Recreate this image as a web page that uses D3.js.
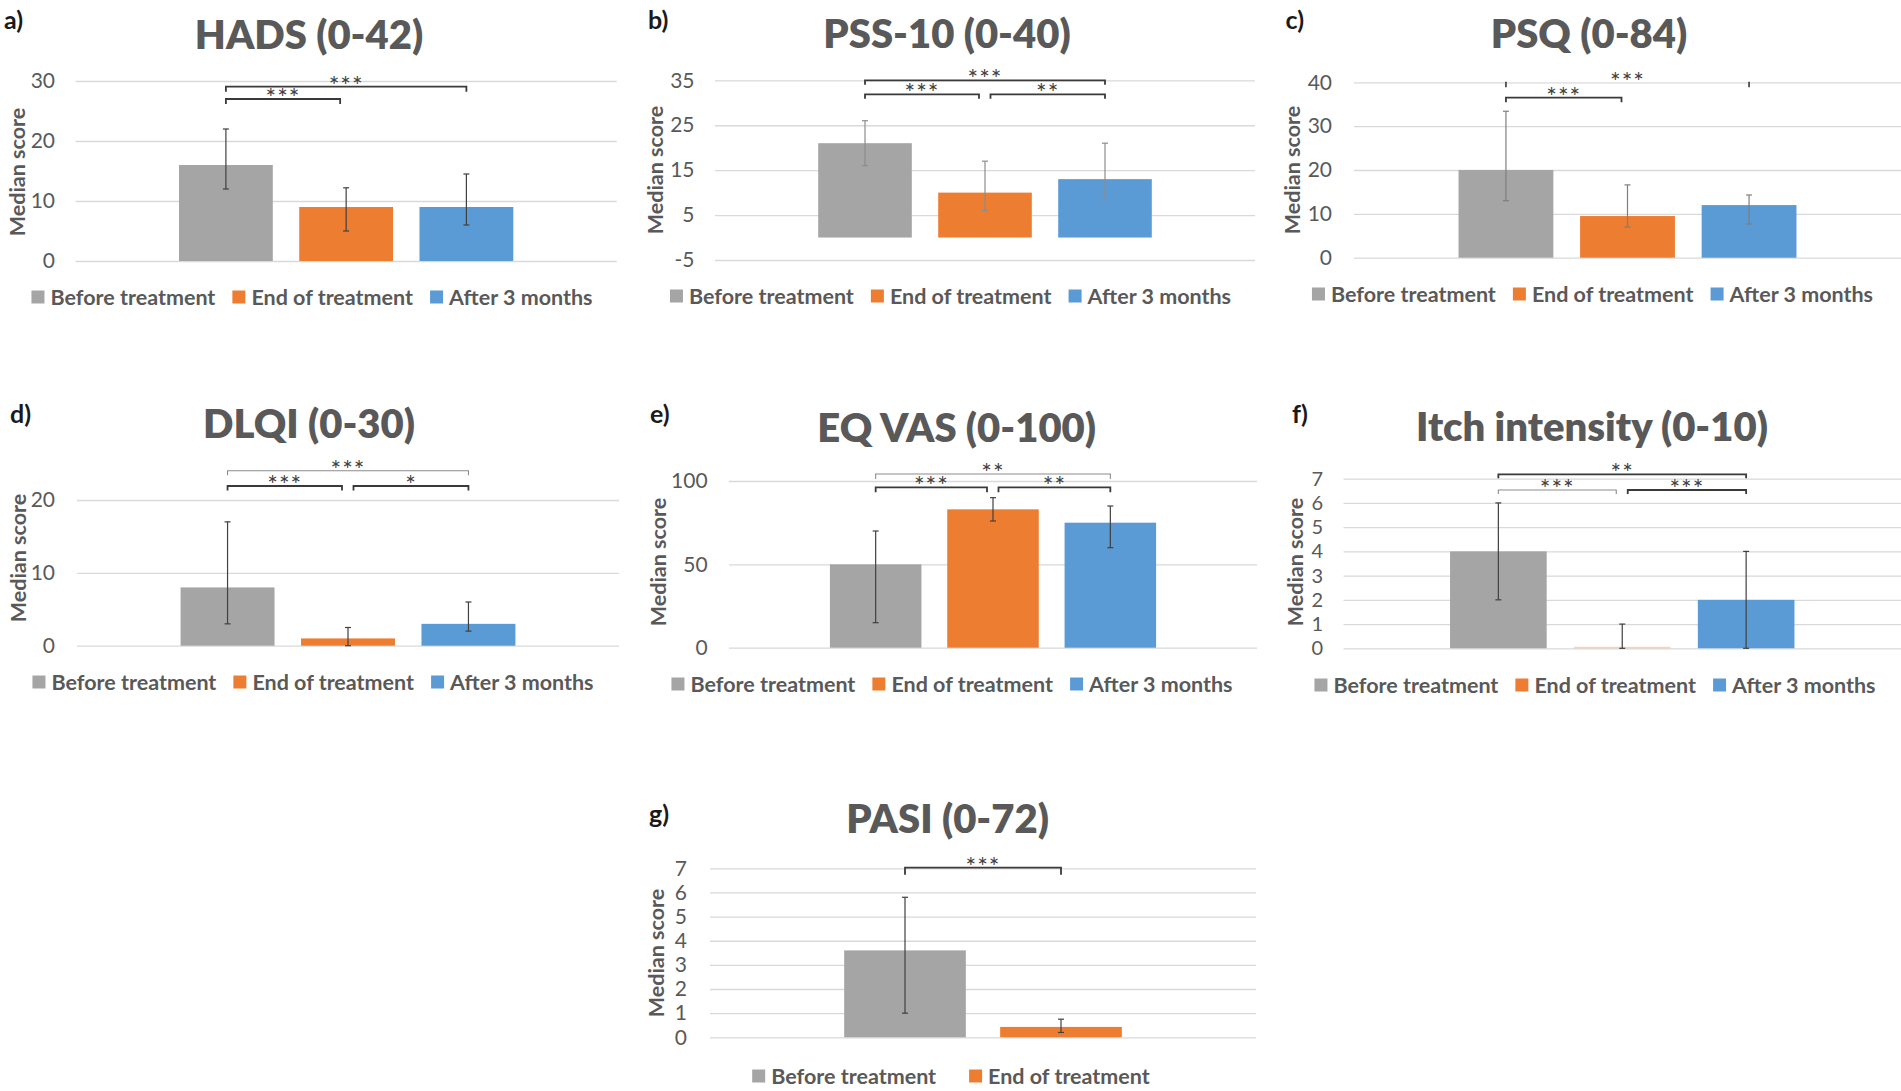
<!DOCTYPE html>
<html>
<head>
<meta charset="utf-8">
<script src="https://cdn.jsdelivr.net/npm/d3@7"></script>
<style>
  body { margin: 0; background: #fff; }
  text { font-family: Lato, "Open Sans", sans-serif; }
</style>
</head>
<body>
<svg id="chart"></svg>
<script>
const width = 1901,
      height = 1091

const series = ["Before treatment", "End of treatment", "After 3 months"]
const colors = ["#a5a5a5", "#ed7d31", "#5b9bd5"]

// a) HADS
const hadsMedian = [16, 9, 9]
const hadsLower  = [12, 5, 6]
const hadsUpper  = [22, 12.2, 14.5]
const hadsTicks  = [0, 10, 20, 30]
const hadsSig    = [[0, 1, "***"], [0, 2, "***"]]

// b) PSS-10
const pssMedian = [21, 10, 13]
const pssLower  = [16, 6, 9]
const pssUpper  = [26, 17, 21]
const pssTicks  = [-5, 5, 15, 25, 35]
const pssSig    = [[0, 1, "***"], [1, 2, "**"], [0, 2, "***"]]

// c) PSQ
const psqMedian = [20, 9.5, 12]
const psqLower  = [13, 7, 7.7]
const psqUpper  = [33.4, 16.6, 14.3]
const psqTicks  = [0, 10, 20, 30, 40]
const psqSig    = [[0, 1, "***"], [0, 2, "***"]]

// d) DLQI
const dlqiMedian = [8, 1, 3]
const dlqiLower  = [3, 0, 2]
const dlqiUpper  = [17, 2.5, 6]
const dlqiTicks  = [0, 10, 20]
const dlqiSig    = [[0, 1, "***"], [1, 2, "*"], [0, 2, "***"]]

// e) EQ VAS
const vasMedian = [50, 83, 75]
const vasLower  = [15, 76, 60]
const vasUpper  = [70, 90, 85]
const vasTicks  = [0, 50, 100]
const vasSig    = [[0, 1, "***"], [1, 2, "**"], [0, 2, "**"]]

// f) Itch intensity
const itchMedian = [4, 0, 2]
const itchLower  = [2, 0, 0]
const itchUpper  = [6, 1, 4]
const itchTicks  = [0, 1, 2, 3, 4, 5, 6, 7]
const itchSig    = [[0, 1, "***"], [1, 2, "***"], [0, 2, "**"]]

// g) PASI (no 3-month value)
const pasiMedian = [3.6, 0.43]
const pasiLower  = [1.0, 0.2]
const pasiUpper  = [5.8, 0.75]
const pasiTicks  = [0, 1, 2, 3, 4, 5, 6, 7]
const pasiSig    = [[0, 1, "***"]]

// layout of each panel (pixels)
const panels = [
  {tag: "a)", title: "HADS (0-42)", median: hadsMedian, lower: hadsLower, upper: hadsUpper, ticks: hadsTicks, sig: hadsSig,
   xr: [75.6, 616.7], yr: [261, 81], tagPos: [4, 29], titlePos: [309, 49], yLab: [17, 172], tickRight: 55, tickSize: 21,
   legend: [312, 297], legGap: 17, brY: [99, 86.7], brTick: 5, brStyle: ["dark", "dark"], err: "#404040"},
  {tag: "b)", title: "PSS-10 (0-40)", median: pssMedian, lower: pssLower, upper: pssUpper, ticks: pssTicks, sig: pssSig,
   xr: [715, 1255], yr: [260, 80.3], tagPos: [648, 29], titlePos: [947, 48], yLab: [655, 170], tickRight: 694.5, tickSize: 21,
   legend: [950.5, 296], legGap: 17, brY: [94.3, 94.3, 80.3], brTick: 4.5, brStyle: ["dark", "dark", "dark"], err: "#8c8c8c"},
  {tag: "c)", title: "PSQ (0-84)", median: psqMedian, lower: psqLower, upper: psqUpper, ticks: psqTicks, sig: psqSig,
   xr: [1354, 1901], yr: [257.7, 82.3], tagPos: [1285.5, 29], titlePos: [1589, 48], yLab: [1292.5, 170], tickRight: 1332, tickSize: 21,
   legend: [1592.5, 294], legGap: 17, brY: [97.7, 82.7], brTick: 4.5, brStyle: ["dark", "faint"], err: "#7f7f7f"},
  {tag: "d)", title: "DLQI (0-30)", median: dlqiMedian, lower: dlqiLower, upper: dlqiUpper, ticks: dlqiTicks, sig: dlqiSig,
   xr: [77, 619], yr: [645.7, 500], tagPos: [10, 423], titlePos: [309, 438], yLab: [18.4, 558], tickRight: 55, tickSize: 21,
   legend: [313, 682], legGap: 17, brY: [486, 486, 470.7], brTick: 4.5, brStyle: ["dark", "dark", "light"], err: "#404040"},
  {tag: "e)", title: "EQ VAS (0-100)", median: vasMedian, lower: vasLower, upper: vasUpper, ticks: vasTicks, sig: vasSig,
   xr: [729, 1257], yr: [647.7, 481], tagPos: [650, 423], titlePos: [956.7, 442], yLab: [658.6, 562], tickRight: 707.6, tickSize: 21,
   legend: [952, 684], legGap: 17, brY: [487.3, 487.3, 474], brTick: 5, brStyle: ["dark", "dark", "light"], err: "#404040"},
  {tag: "f)", title: "Itch intensity (0-10)", median: itchMedian, lower: itchLower, upper: itchUpper, ticks: itchTicks, sig: itchSig,
   xr: [1343.5, 1901], yr: [648.3, 478.7], tagPos: [1292, 423], titlePos: [1592, 441], yLab: [1295, 562], tickRight: 1323, tickSize: 20,
   legend: [1595, 685], legGap: 17, brY: [490, 490, 474.3], brTick: 4, brStyle: ["light", "dark", "dark"], err: "#404040"},
  {tag: "g)", title: "PASI (0-72)", median: pasiMedian, lower: pasiLower, upper: pasiUpper, ticks: pasiTicks, sig: pasiSig,
   xr: [710, 1256], yr: [1037.3, 868.3], tagPos: [649, 823], titlePos: [947.6, 833], yLab: [656.3, 953], tickRight: 687, tickSize: 21,
   legend: [951, 1076], legGap: 33, brY: [867.7], brTick: 7, brStyle: ["dark"], err: "#404040"}
]

const textColor = "#595959"

const svg = d3.select("#chart")
  .attr("width", width)
  .attr("height", height)

svg.append("rect").attr("width", width).attr("height", height).attr("fill", "#fff")

panels.forEach(drawPanel)

function drawPanel (p) {
  const names = series.slice(0, p.median.length)
  const rows = names.map((name, i) => ({name: name, i: i, median: p.median[i], lower: p.lower[i], upper: p.upper[i]}))

  const x = d3.scaleBand()
    .domain(names)
    .range(p.xr)
    .paddingInner(0.22)
    .paddingOuter(0.86)

  const y = d3.scaleLinear()
    .domain(d3.extent(p.ticks))
    .range(p.yr)

  const g = svg.append("g")

  // panel letter
  g.append("text")
    .attr("x", p.tagPos[0]).attr("y", p.tagPos[1])
    .style("font-size", "25px").style("font-weight", 700)
    .attr("fill", "#1a1a1a")
    .text(p.tag)

  // title
  g.append("text")
    .attr("x", p.titlePos[0]).attr("y", p.titlePos[1])
    .attr("text-anchor", "middle")
    .style("font-size", "40px").style("font-weight", 800)
    .attr("fill", textColor)
    .text(p.title)

  // y axis with gridlines
  const axis = g.append("g")
    .attr("transform", `translate(${p.xr[0]},0)`)
    .call(d3.axisLeft(y)
      .tickValues(p.ticks)
      .tickSize(-(p.xr[1] - p.xr[0]))
      .tickPadding(p.xr[0] - p.tickRight)
      .tickFormat(d => String(d)))
  axis.select(".domain").remove()
  axis.selectAll(".tick line").attr("stroke", "#d9d9d9").attr("stroke-width", 1.3)
  axis.selectAll(".tick text")
    .attr("fill", textColor)
    .style("font-size", p.tickSize + "px")
    .style("font-family", "Lato, sans-serif")

  g.append("text")
    .attr("transform", `translate(${p.yLab[0]},${p.yLab[1]}) rotate(-90)`)
    .attr("text-anchor", "middle")
    .attr("dy", "0.35em")
    .style("font-size", "21.5px").style("font-weight", 700)
    .attr("fill", textColor)
    .text("Median score")

  // bars
  g.selectAll("rect.bar")
    .data(rows)
    .join("rect").classed("bar", true)
    .attr("x", d => x(d.name))
    .attr("width", x.bandwidth())
    .attr("y", d => Math.min(y(d.median), y(0) - 1.5))
    .attr("height", d => Math.max(y(0) - y(d.median), 1.5))
    .attr("fill", (d, i) => colors[i])
    .attr("fill-opacity", d => d.median === 0 ? 0.35 : 1)

  // error bars
  const cx = d => x(d.name) + x.bandwidth() / 2
  const err = g.selectAll("g.err")
    .data(rows)
    .join("g").classed("err", true)
    .attr("stroke", p.err)
    .attr("stroke-width", 1.2)
  err.append("line")
    .attr("x1", cx).attr("x2", cx)
    .attr("y1", d => y(d.lower)).attr("y2", d => y(d.upper))
  err.append("line")
    .attr("x1", d => cx(d) - 3).attr("x2", d => cx(d) + 3)
    .attr("y1", d => y(d.upper)).attr("y2", d => y(d.upper))
  err.append("line")
    .attr("x1", d => cx(d) - 3).attr("x2", d => cx(d) + 3)
    .attr("y1", d => y(d.lower)).attr("y2", d => y(d.lower))

  // significance brackets
  const last = names.length - 1
  p.sig.forEach((s, k) => {
    const [a, b, stars] = s
    let x1 = cx(rows[a]), x2 = cx(rows[b])
    if (a > 0 && a < last) x1 += 5.5
    if (b > 0 && b < last) x2 -= 6
    const ly = p.brY[k], style = p.brStyle[k]
    const stroke = style === "dark" ? "#3a3a3a" : style === "light" ? "#8c8c8c" : "#e6e6e6"
    const sw = style === "dark" ? 1.8 : 1.1
    const br = g.append("g").attr("fill", "none")
    br.append("path")
      .attr("d", `M${x1},${ly + p.brTick}V${ly}H${x2}V${ly + p.brTick}`)
      .attr("stroke", stroke).attr("stroke-width", sw)
    if (style === "faint") {
      br.selectAll("line.tk").data([x1, x2]).join("line")
        .attr("x1", d => d).attr("x2", d => d)
        .attr("y1", ly - 1).attr("y2", ly + p.brTick)
        .attr("stroke", "#3a3a3a").attr("stroke-width", 1.6)
    }
    g.append("text")
      .attr("x", (x1 + x2) / 2).attr("y", ly + 8)
      .attr("text-anchor", "middle")
      .style("font-size", "25px")
      .style("letter-spacing", "1px")
      .attr("fill", "#404040")
      .text(stars)
  })

  // legend
  const leg = g.append("g")
  let cursor = 0
  names.forEach((name, i) => {
    const item = leg.append("g").attr("transform", `translate(${cursor},0)`)
    item.append("rect")
      .attr("x", 0).attr("y", -6.5).attr("width", 13).attr("height", 13)
      .attr("fill", colors[i])
    const t = item.append("text")
      .attr("x", 19).attr("dy", "0.35em")
      .style("font-size", "21.5px").style("font-weight", 700)
      .attr("fill", textColor)
      .text(name)
    cursor += 19 + t.node().getComputedTextLength() + p.legGap
  })
  const legWidth = cursor - p.legGap
  leg.attr("transform", `translate(${p.legend[0] - legWidth / 2},${p.legend[1]})`)
}
</script>
</body>
</html>
